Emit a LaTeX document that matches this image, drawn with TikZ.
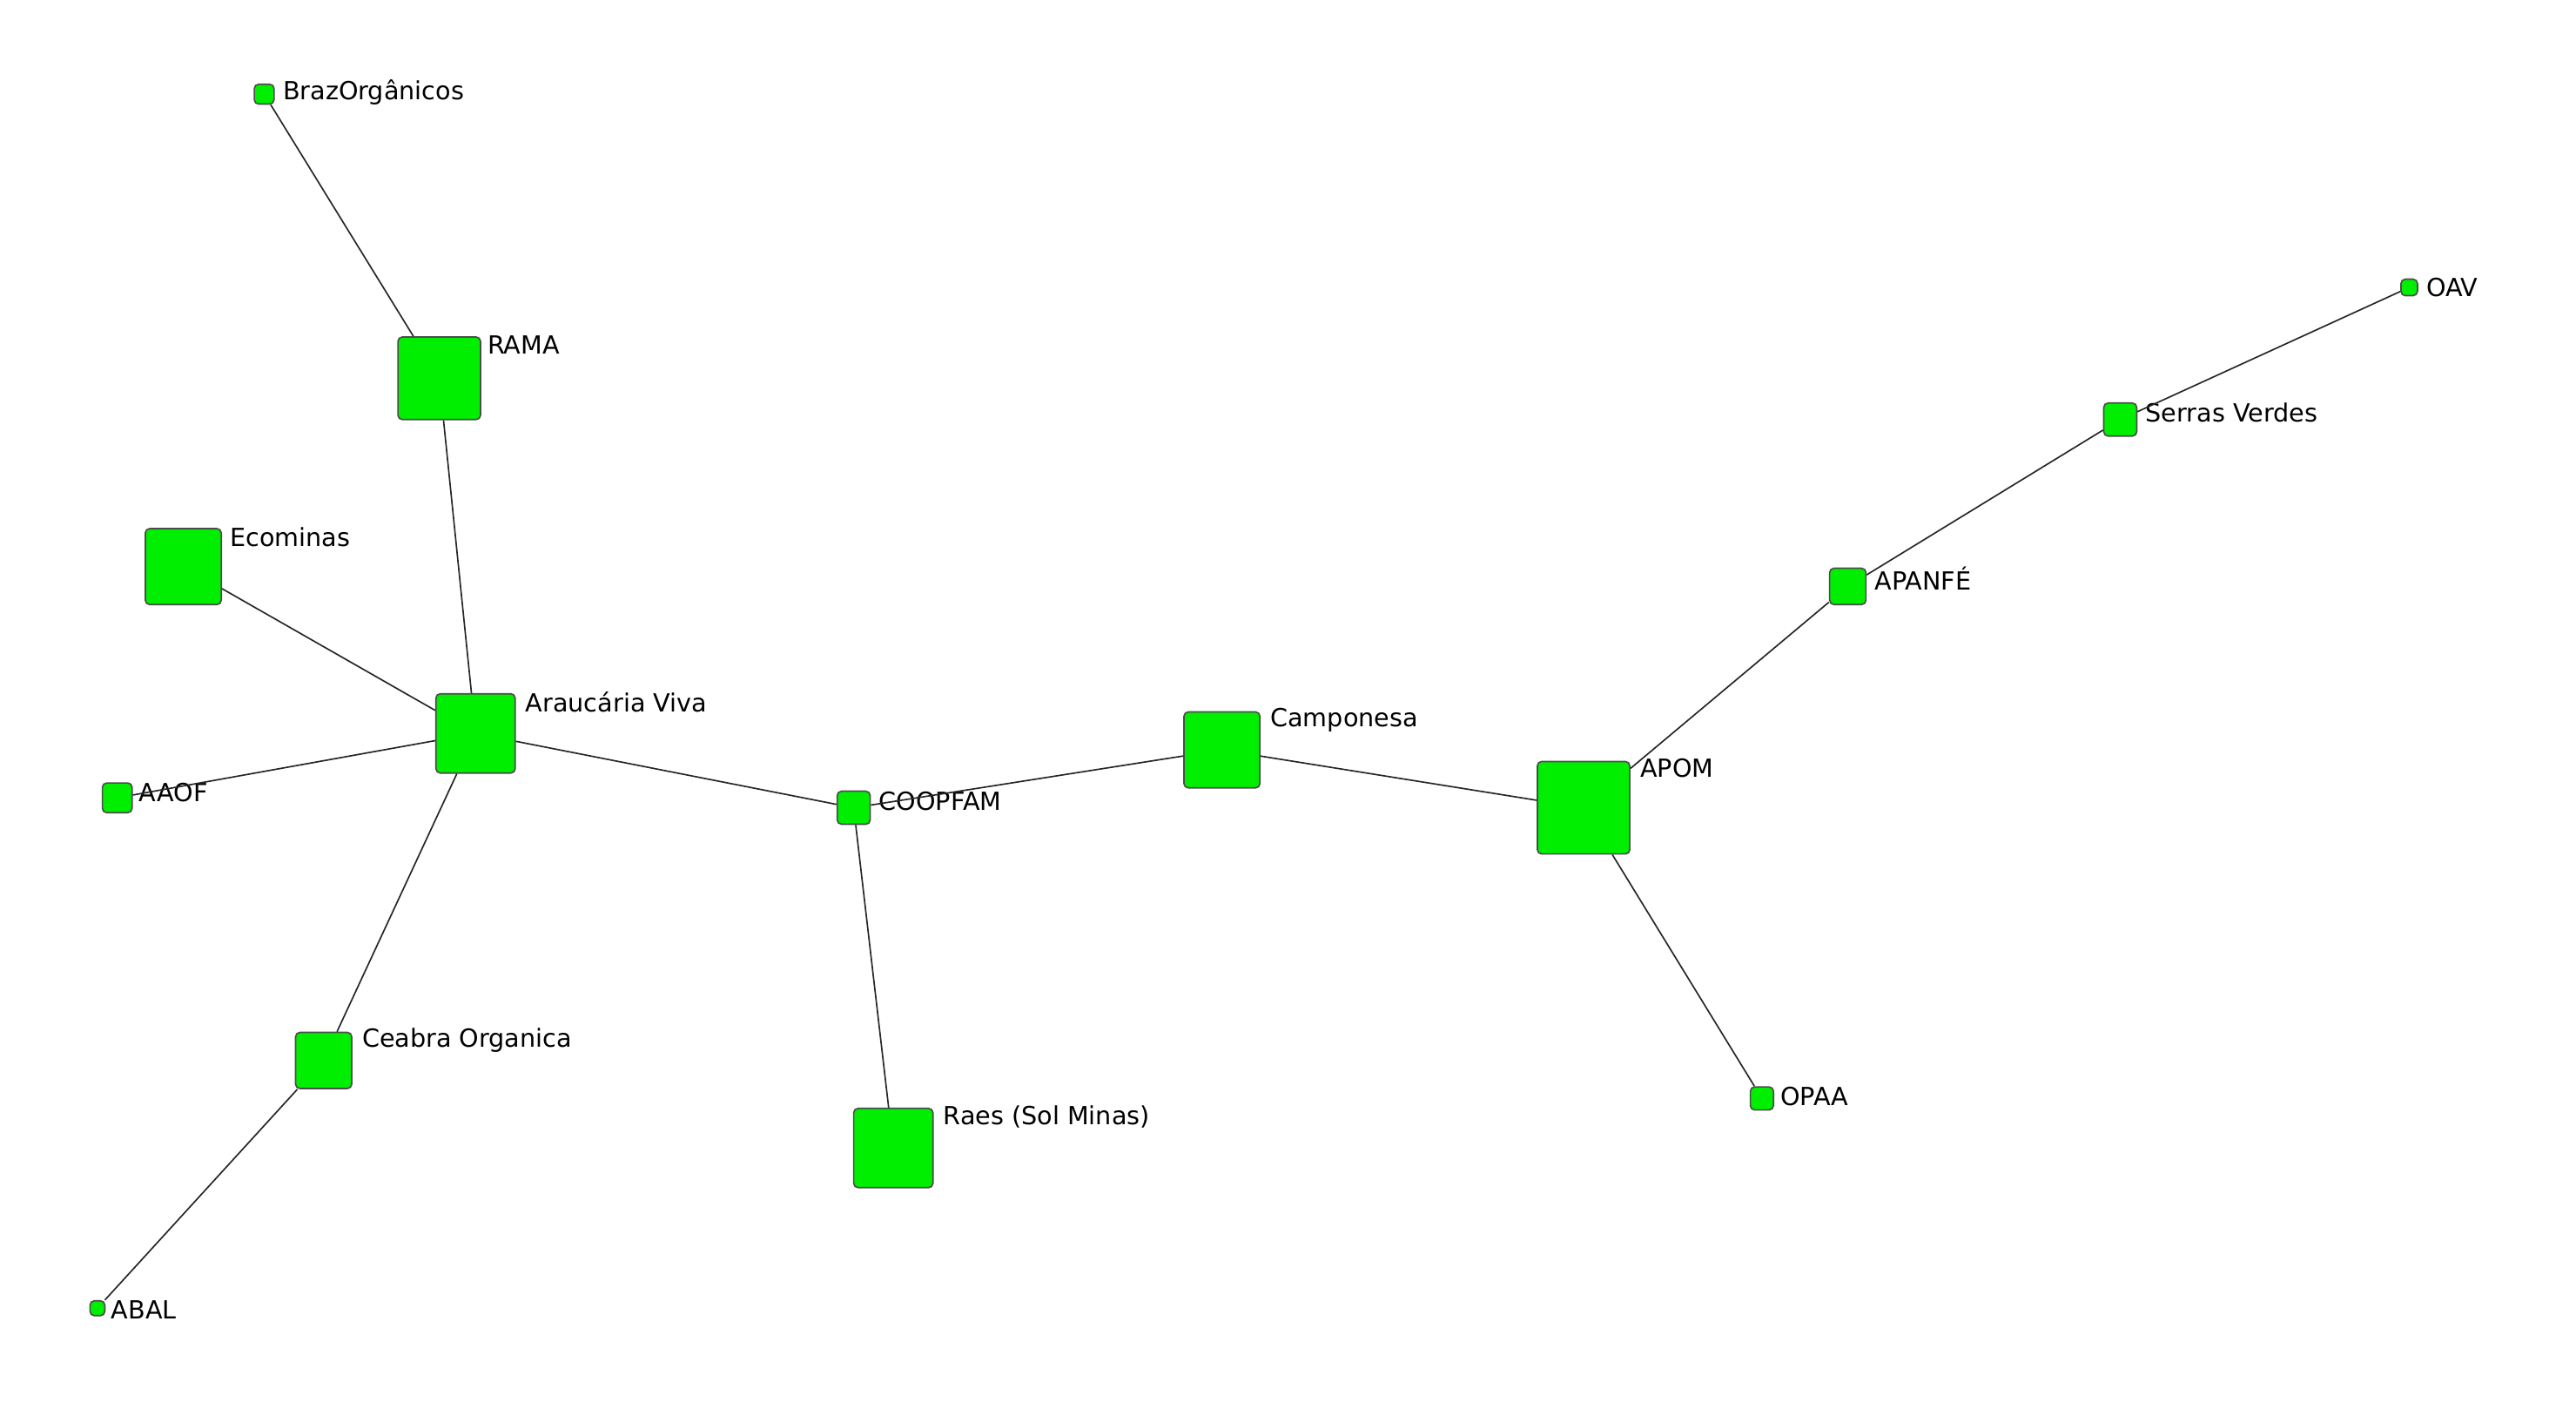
\documentclass[tikz,border=0pt]{standalone}
\usepackage{fontspec}
\setmainfont{DejaVu Sans}
\begin{document}
\begin{tikzpicture}[x=0.02cm,y=-0.02cm,
 nd/.style={draw=black!70,fill={rgb,255:red,0;green,238;blue,0},rounded corners=1.5pt,inner sep=0pt,line width=0.5pt},
 lb/.style={anchor=west,inner sep=0pt,font=\fontsize{8.6}{10}\selectfont},
 ed/.style={draw=black!85,line width=0.5pt}]
\useasboundingbox (0,0) rectangle (1560,853);
\def\N#1#2#3#4#5#6#7{\node[nd,minimum size=#4*0.02cm] (#1) at (#2,#3) {};\node[lb] (#1l) at (#5,#6) {#7};}
\N{braz}{160}{57}{12}{171}{56}{BrazOrgânicos}
\N{rama}{266}{229}{50}{295}{209}{RAMA}
\N{eco}{111}{343}{46}{139}{325}{Ecominas}
\N{arau}{288}{444}{48}{318}{425}{Araucária Viva}
\N{aaof}{71}{483}{18}{84}{480}{AAOF}
\N{ceab}{196}{642}{34}{219}{630}{Ceabra Organica}
\N{abal}{59}{792}{9}{67}{793}{ABAL}
\N{coop}{517}{489}{20}{532}{485}{COOPFAM}
\N{raes}{541}{695}{48}{571}{676}{Raes (Sol Minas)}
\N{camp}{740}{454}{46}{769}{436}{Camponesa}
\N{apom}{959}{489}{56}{993}{465}{APOM}
\N{opaa}{1067}{665}{14}{1078}{664}{OPAA}
\N{apan}{1119}{355}{22}{1135}{350}{APANFÉ}
\N{serr}{1284}{254}{20}{1299}{250}{Serras Verdes}
\N{oav}{1459}{174}{10}{1469}{174}{OAV}
\begin{scope}[on background layer/.try]
\end{scope}
\draw[ed] (braz)--(rama) (rama)--(arau) (eco)--(arau) (aaof)--(arau) (ceab)--(arau) (abal)--(ceab)
 (arau)--(coop) (coop)--(raes) (coop)--(camp) (camp)--(apom) (apom)--(opaa) (apom)--(apan) (apan)--(serr) (serr)--(oav);
\end{tikzpicture}
\end{document}
